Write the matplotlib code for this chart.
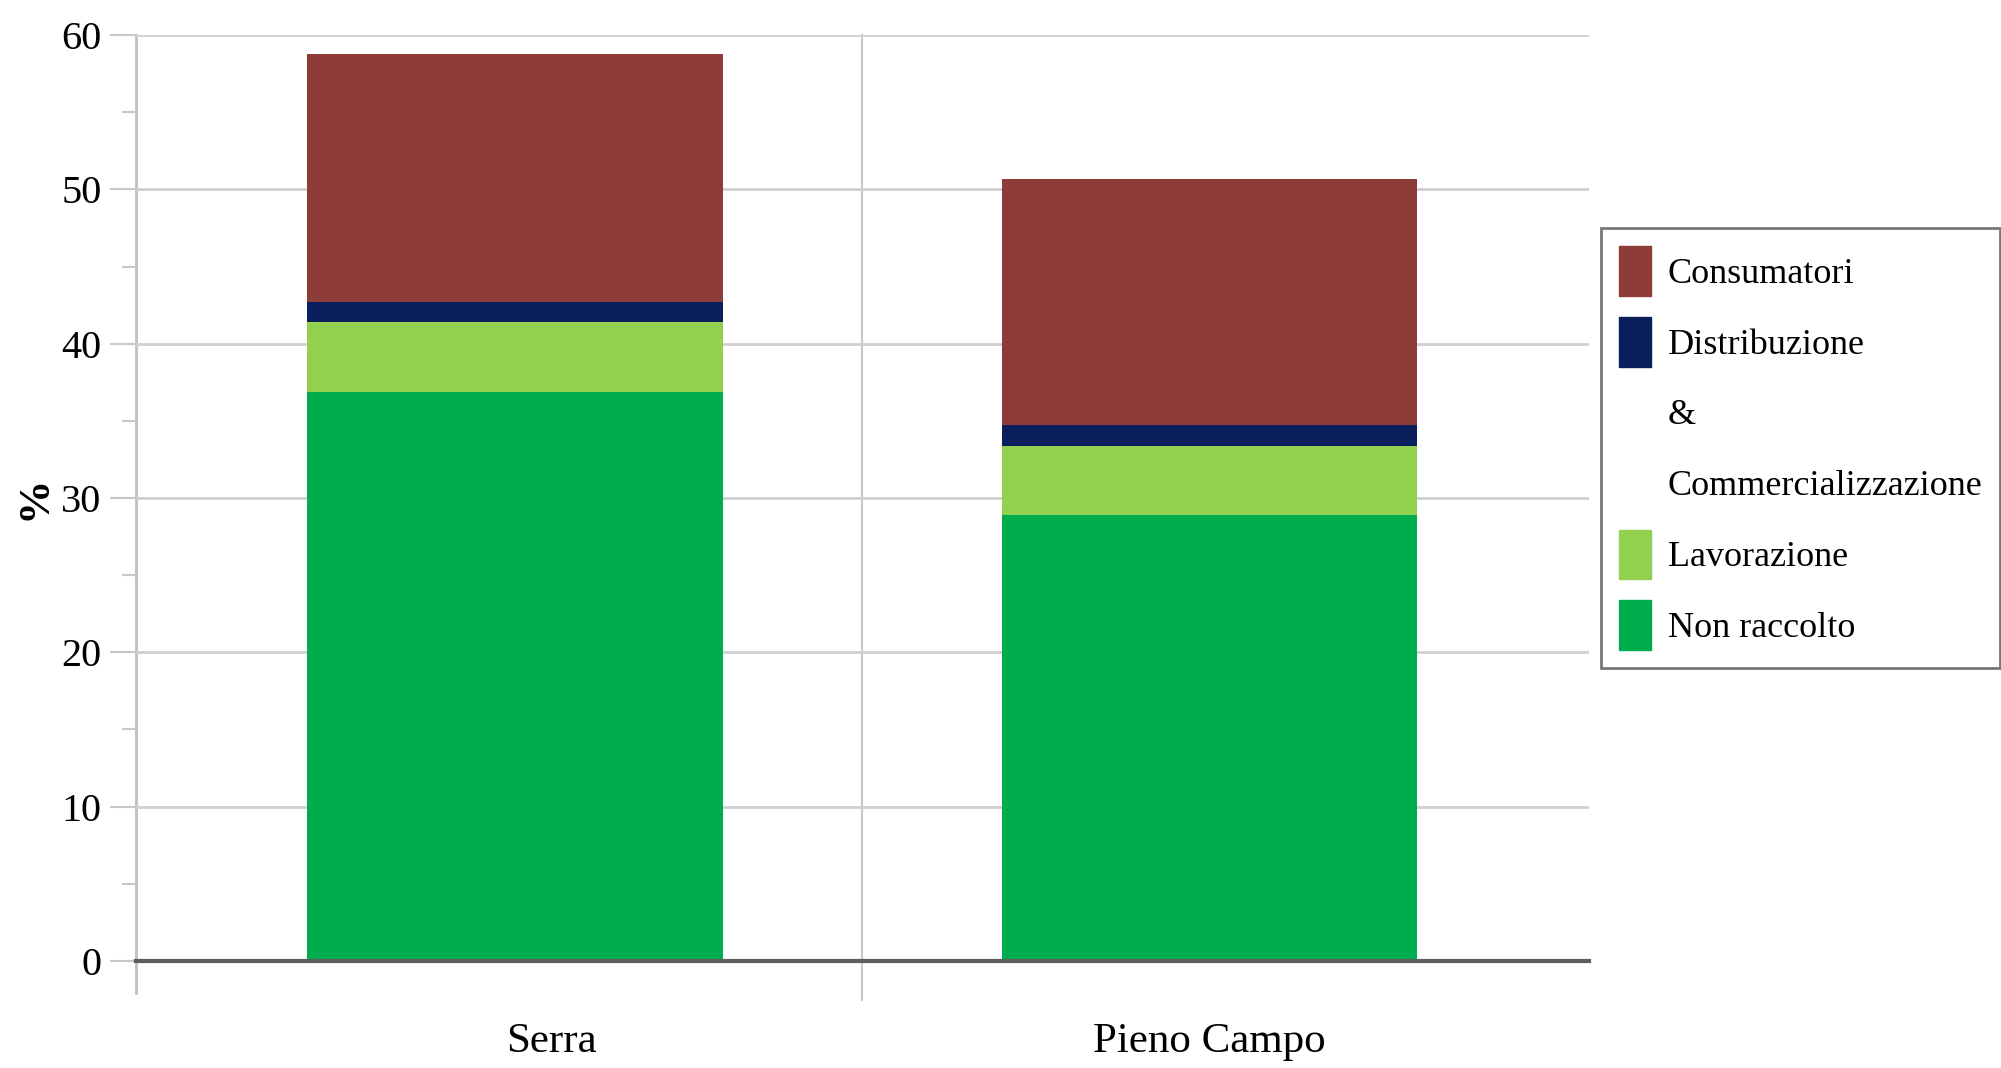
import numpy as np
import matplotlib
matplotlib.use('Agg')
import matplotlib.pyplot as plt
from matplotlib.patches import Patch

categories = ['Serra', 'Pieno Campo']
non_raccolto = [36.9, 28.9]
lavorazione = [4.5, 4.5]
distribuzione = [1.3, 1.3]
consumatori = [16.1, 16.0]

series = [
    ('Non raccolto', non_raccolto, '#00AD4E'),
    ('Lavorazione', lavorazione, '#92D050'),
    ('Distribuzione', distribuzione, '#0B1F5C'),
    ('Consumatori', consumatori, '#8E3C38'),
]

plt.rcParams['font.family'] = ['Liberation Serif', 'DejaVu Serif']

fig = plt.figure(figsize=(20.01, 10.68), dpi=100)
ax = fig.add_axes([0.068, 0.1002, 0.726, 0.8670])

x = np.arange(len(categories)) + np.array([0.022, -0.022])
bottom = np.zeros(len(categories))
for name, vals, color in series:
    ax.bar(x, vals, width=0.572, bottom=bottom, color=color, zorder=3)
    bottom += np.array(vals)

ax.set_xlim(-0.5, 1.5)
ax.set_ylim(0, 60)
ax.set_yticks(np.arange(0, 61, 10))
ax.set_yticks(np.arange(5, 60, 10), minor=True)
ax.tick_params(axis='y', which='major', length=19, width=1.5, color='#c8c8c8',
               labelsize=29, pad=6)
ax.tick_params(axis='y', which='minor', length=10, width=1.5, color='#c8c8c8')
ax.grid(axis='y', color='#cfcfcf', linewidth=2, zorder=0)

# the "Serra" label sits a little right of its bar in the original
ax.set_xticks(x + np.array([0.05, 0.0]))
ax.set_xticklabels(categories, fontsize=31)
ax.tick_params(axis='x', length=0, pad=44)

fig.text(34 / 2001, 1 - 498 / 1068, '%', rotation=90, fontsize=32,
         fontweight='bold', ha='center', va='center')

for s in ['top', 'right', 'left']:
    ax.spines[s].set_visible(False)
ax.spines['bottom'].set_color('#5e5e5e')
ax.spines['bottom'].set_linewidth(3)
ax.spines['bottom'].set_zorder(4)

# left axis line and category divider, extending below the baseline
ax.plot([-0.5, -0.5], [60, -2.1], color='#c0c0c0', lw=2, clip_on=False, zorder=1)
ax.plot([0.5, 0.5], [60, -2.5], color='#c8c8c8', lw=1.5, clip_on=False, zorder=1)

handles = [
    Patch(color='#8E3C38'),
    Patch(color='#0B1F5C'),
    Patch(color='none'),
    Patch(color='none'),
    Patch(color='#92D050'),
    Patch(color='#00AD4E'),
]
labels = ['Consumatori', 'Distribuzione', '&', 'Commercializzazione',
          'Lavorazione', 'Non raccolto']
leg = fig.legend(handles, labels, loc='upper left',
                 bbox_to_anchor=(0.8, 1 - 228 / 1068), fontsize=26,
                 frameon=True, fancybox=False, edgecolor='#555555',
                 handlelength=0.9, handleheight=1.75, handletextpad=0.45,
                 labelspacing=0.58, borderpad=0.5, borderaxespad=0)
leg.get_frame().set_linewidth(2)

fig.savefig('out.png', dpi=100, facecolor='white')
